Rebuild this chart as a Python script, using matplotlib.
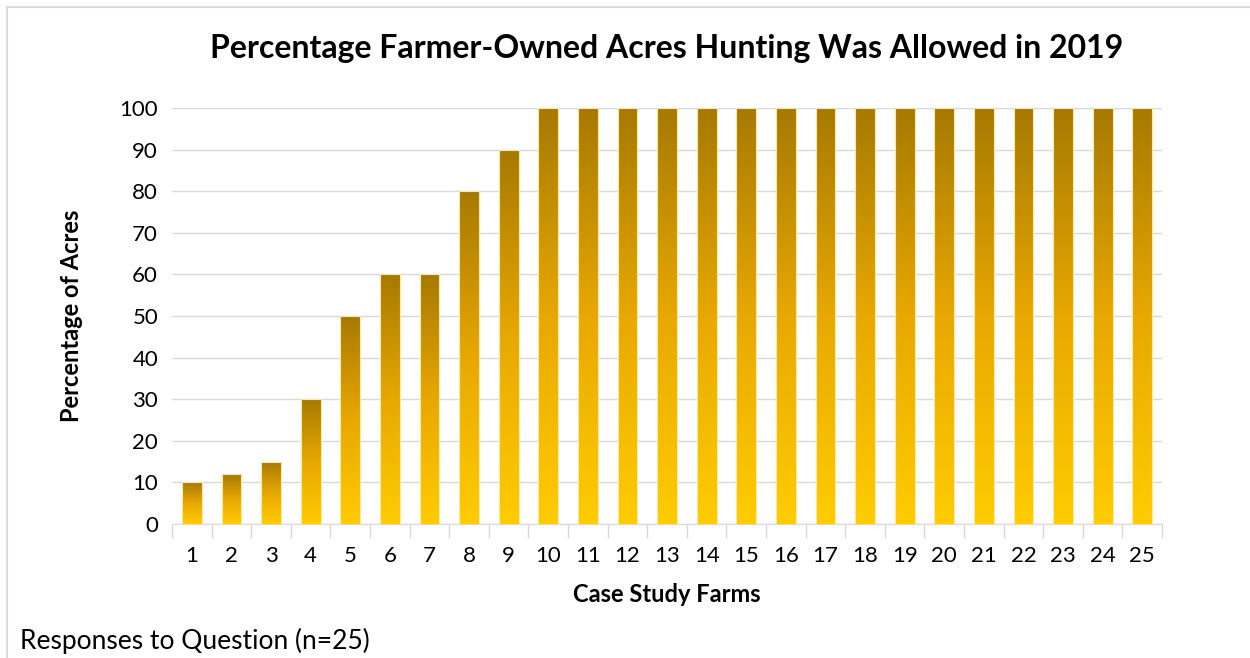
import numpy as np
import matplotlib.pyplot as plt
from matplotlib.colors import LinearSegmentedColormap
from matplotlib.patches import Rectangle

farms = list(range(1, 26))
pct_acres = [10, 12, 15, 30, 50, 60, 60, 80, 90, 100, 100, 100, 100,
             100, 100, 100, 100, 100, 100, 100, 100, 100, 100, 100, 100]

plt.rcParams['font.family'] = ['Lato', 'DejaVu Sans']

fig = plt.figure(figsize=(12.5, 6.58), dpi=100)
ax = fig.add_axes([0.1376, 0.2036, 0.792, 0.6323])

# gradient per bar: dark gold on top, bright yellow at the bottom
cmap = LinearSegmentedColormap.from_list('gold', ['#FFCC00', '#E8A800', '#A67900'])
grad = np.linspace(0, 1, 256).reshape(-1, 1)
bars = ax.bar(farms, pct_acres, width=0.5, color='none', edgecolor='#FFE8A0',
              linewidth=0.8, zorder=3)
for b in bars:
    x0, y0, w, h = b.get_x(), b.get_y(), b.get_width(), b.get_height()
    im = ax.imshow(grad, extent=[x0, x0 + w, y0, y0 + h], origin='lower',
                   cmap=cmap, aspect='auto', zorder=2)
    im.set_clip_path(Rectangle((x0, y0), w, h, transform=ax.transData))

ax.set_xlim(0.5, 25.5)
ax.set_ylim(0, 100)
ax.set_yticks(range(0, 101, 10))
ax.set_xticks(farms)
ax.set_xticks(np.arange(0.5, 26, 1), minor=True)
ax.tick_params(axis='x', which='major', length=0, labelsize=16, pad=16)
ax.tick_params(axis='x', which='minor', length=10, color='#D9D9D9', width=1)
ax.tick_params(axis='y', length=0, labelsize=16, pad=10)
ax.grid(axis='y', color='#D9D9D9', linewidth=1, zorder=0)
ax.set_axisbelow(True)
for s in ['top', 'right', 'left']:
    ax.spines[s].set_visible(False)
ax.spines['bottom'].set_color('#D9D9D9')

ax.set_title('Percentage Farmer-Owned Acres Hunting Was Allowed in 2019',
             fontsize=23, fontweight='bold', pad=36)
ax.set_xlabel('Case Study Farms', fontsize=17, fontweight='bold', labelpad=12)
ax.set_ylabel('Percentage of Acres', fontsize=17, fontweight='bold', labelpad=26)

fig.text(0.016, 0.013, 'Responses to Question (n=25)', fontsize=19)
fig.patches.append(Rectangle((0.0056, -0.1), 1.2, 1.089, transform=fig.transFigure,
                             fill=False, edgecolor='#DCDCE0', linewidth=1.5))

fig.savefig('out.png', dpi=100)
